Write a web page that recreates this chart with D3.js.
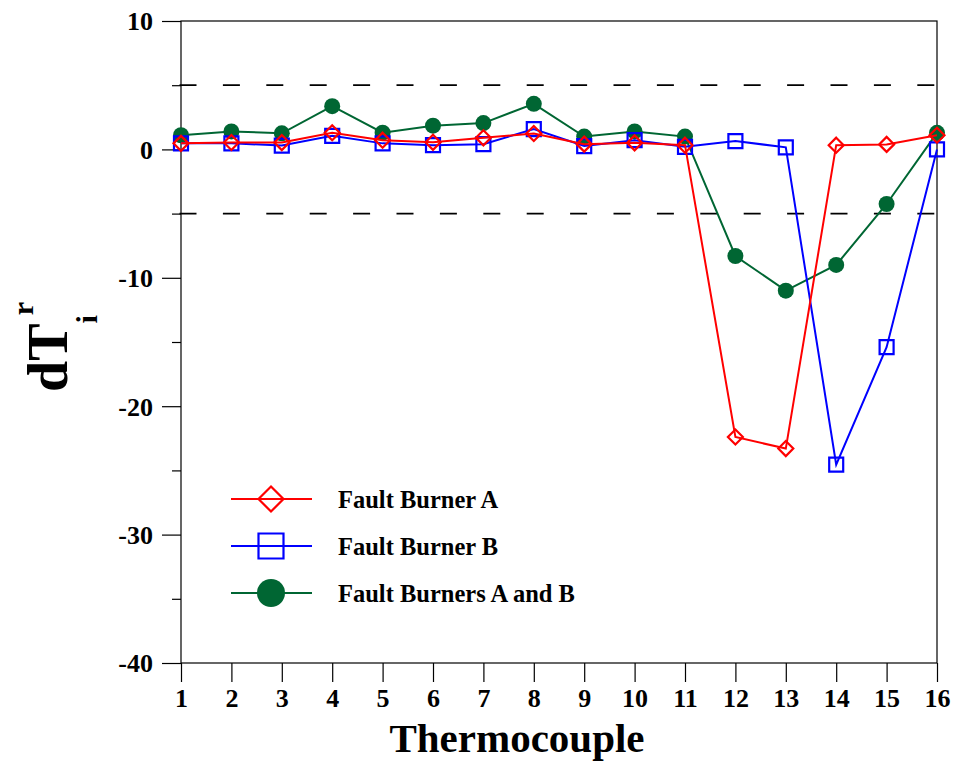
<!DOCTYPE html>
<html>
<head>
<meta charset="utf-8">
<script src="https://cdn.jsdelivr.net/npm/d3@7"></script>
<style>
  body { margin: 0; background: #fff; }
  svg text { font-family: "Liberation Serif", "Times New Roman", serif; font-weight: bold; fill: #000; }
</style>
</head>
<body>
<div id="chart"></div>
<script>
// thermocouple index 1..16
const thermocouples = d3.range(1, 17);

// dT_i^r readings per fault case
const faultA  = [0.47, 0.54, 0.53, 1.3, 0.72, 0.55, 0.9, 1.24, 0.41, 0.51, 0.33, -22.4, -23.3, 0.33, 0.39, 1.1];
const faultB  = [0.47, 0.47, 0.3, 1.06, 0.47, 0.33, 0.41, 1.58, 0.26, 0.72, 0.2, 0.65, 0.16, -24.55, -15.4, 0.0];
const faultAB = [1.1, 1.4, 1.25, 3.37, 1.3, 1.85, 2.05, 3.55, 1.0, 1.4, 1.0, -8.3, -11.0, -9.0, -4.25, 1.29];

const yMajor = [10, 0, -10, -20, -30, -40];
const yMinor = [5, -5, -15, -25, -35];
const limits = [5, -5];

const seriesNames = ["Fault Burner A", "Fault Burner B", "Fault Burners A and B"];

/***** SETUP *****/
const width = 957, height = 765;
const margin = {top: 21, left: 181, right: 20, bottom: 102};
const plotRight = width - margin.right;     // 937
const plotBottom = height - margin.bottom;  // 663

const svg = d3.select("#chart").append("svg")
    .attr("width", width)
    .attr("height", height);

const xScale = d3.scaleLinear().domain([1, 16]).range([margin.left, plotRight]);
const yScale = d3.scaleLinear().domain([-40, 10]).range([plotBottom, margin.top]);

/***** AXES *****/
const majorLen = 19, minorLen = 9;
const plainFormat = d => String(d);   // keep the ascii hyphen as in the original

svg.append("g")
    .attr("transform", "translate(0," + plotBottom + ")")
    .call(d3.axisBottom(xScale).tickValues(thermocouples).tickSize(majorLen).tickPadding(7).tickFormat(plainFormat))
    .call(g => g.select(".domain").remove())
    .call(g => g.selectAll("line").attr("stroke", "#000").attr("stroke-width", 1.2))
    .selectAll("text")
    .style("font-size", "26px")
    .style("font-family", "Liberation Serif")
    .style("font-weight", "bold")
    .attr("fill", "#000");

svg.append("g")
    .attr("transform", "translate(" + margin.left + ",0)")
    .call(d3.axisLeft(yScale).tickValues(yMajor).tickSize(majorLen).tickPadding(9).tickFormat(plainFormat))
    .call(g => g.select(".domain").remove())
    .call(g => g.selectAll("line").attr("stroke", "#000").attr("stroke-width", 1.2))
    .selectAll("text")
    .attr("dy", "0.34em")
    .style("font-size", "26px")
    .style("font-family", "Liberation Serif")
    .style("font-weight", "bold")
    .attr("fill", "#000");

svg.append("g")
    .attr("transform", "translate(" + margin.left + ",0)")
    .call(d3.axisLeft(yScale).tickValues(yMinor).tickSize(minorLen).tickFormat(""))
    .call(g => g.select(".domain").remove())
    .call(g => g.selectAll("line").attr("stroke", "#000").attr("stroke-width", 1.2));

// frame
svg.append("rect")
    .attr("x", margin.left)
    .attr("y", margin.top)
    .attr("width", plotRight - margin.left)
    .attr("height", plotBottom - margin.top)
    .attr("fill", "none")
    .attr("stroke", "#000")
    .attr("stroke-width", 1.2);

// +/-5 dashed limits
svg.selectAll(".limit").data(limits).enter().append("line")
    .attr("class", "limit")
    .attr("x1", margin.left - 1.5)
    .attr("x2", plotRight)
    .attr("y1", d => yScale(d))
    .attr("y2", d => yScale(d))
    .attr("stroke", "#000")
    .attr("stroke-width", 1.8)
    .attr("stroke-dasharray", "17,26.4");

/***** SERIES *****/
const diamondPath = h => `M0,${-h}L${h},0L0,${h}L${-h},0Z`;
const squarePath = s => `M${-s / 2},${-s / 2}h${s}v${s}h${-s}Z`;

const series = [
    {name: seriesNames[2], values: faultAB, color: "#006633", marker: "circle"},
    {name: seriesNames[1], values: faultB, color: "#0000ff", marker: "square"},
    {name: seriesNames[0], values: faultA, color: "#ff0000", marker: "diamond"}
];

const line = d3.line()
    .x((d, i) => xScale(thermocouples[i]))
    .y(d => yScale(d));

function drawMarker(sel, s, big) {
    if (s.marker === "circle") {
        sel.append("circle").attr("r", big ? 14 : 8).attr("fill", s.color);
    } else if (s.marker === "square") {
        sel.append("path").attr("d", squarePath(big ? 25 : 14))
            .attr("fill", "none").attr("stroke", s.color).attr("stroke-width", 2.2);
    } else {
        sel.append("path").attr("d", diamondPath(big ? 12.5 : 7.5))
            .attr("fill", "none").attr("stroke", s.color).attr("stroke-width", 2.2);
    }
}

series.forEach(s => {
    const g = svg.append("g");
    g.append("path")
        .datum(s.values)
        .attr("d", line)
        .attr("fill", "none")
        .attr("stroke", s.color)
        .attr("stroke-width", 2);

    g.selectAll(".pt").data(s.values).enter().append("g")
        .attr("class", "pt")
        .attr("transform", (d, i) => "translate(" + xScale(thermocouples[i]) + "," + yScale(d) + ")")
        .each(function() { drawMarker(d3.select(this), s, false); });
});

/***** LEGEND *****/
const legendOrder = [series[2], series[1], series[0]];
const legendY = [499, 546, 593];

const legend = svg.append("g");
legendOrder.forEach((s, i) => {
    const row = legend.append("g").attr("transform", "translate(0," + legendY[i] + ")");
    row.append("line")
        .attr("x1", 231).attr("x2", 312)
        .attr("stroke", s.color).attr("stroke-width", 2);
    const m = row.append("g").attr("transform", "translate(271,0)");
    drawMarker(m, s, true);
    row.append("text")
        .attr("x", 338)
        .attr("y", 9)
        .style("font-size", "24.5px")
        .text(s.name);
});

/***** AXIS TITLES *****/
svg.append("text")
    .attr("x", 517)
    .attr("y", 752)
    .attr("text-anchor", "middle")
    .style("font-size", "41px")
    .text("Thermocouple");

const yTitle = svg.append("text")
    .attr("transform", "translate(67,392) rotate(-90)");
yTitle.append("tspan").style("font-size", "56px").text("dT");
yTitle.append("tspan").attr("dy", 30).style("font-size", "30px").text("i");
yTitle.append("tspan").attr("dy", -64).style("font-size", "30px").text("r");
</script>
</body>
</html>
